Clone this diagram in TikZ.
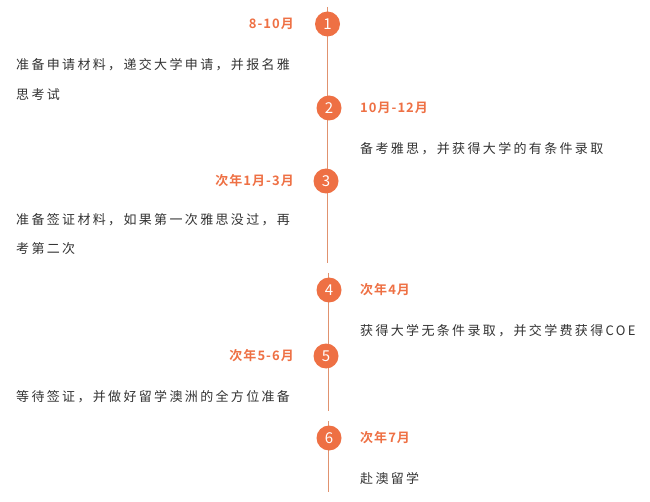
\documentclass[tikz,border=0pt]{standalone}
\usepackage{fontspec}
\setmainfont{Noto Sans CJK SC}
\newfontfamily\descfont[LetterSpace=18]{Noto Sans CJK SC}
\newfontfamily\datefont[LetterSpace=8]{Noto Sans CJK SC Bold}
\definecolor{org}{HTML}{EE7044}
\definecolor{lin}{HTML}{E0926F}
\definecolor{txt}{HTML}{333333}
\begin{document}
\begin{tikzpicture}[x=1pt,y=-1pt,
  num/.style={circle,fill=org,minimum size=25pt,inner sep=0pt,text=white,font=\fontsize{15}{16}\selectfont},
  date/.style={text=org,font=\datefont\fontsize{13}{15}\selectfont,inner sep=0pt},
  desc/.style={text=txt,font=\descfont\fontsize{13}{15}\selectfont,inner sep=0pt,anchor=west},
  tl/.style={draw=lin,line width=1pt}]
\useasboundingbox (0,0) rectangle (650,502);
\coordinate (s1) at (327.5,7); \coordinate (e1) at (327.5,263);
\coordinate (s2) at (328.5,273); \coordinate (e2) at (328.5,411);
\coordinate (s3) at (328.5,421); \coordinate (e3) at (328.5,492);
\draw[tl] (s1) -- (e1); \draw[tl] (s2) -- (e2); \draw[tl] (s3) -- (e3);
\node[num] (n1) at (327.5,24) {1};
\node[num] (n2) at (329,108) {2};
\node[num] (n3) at (326,181) {3};
\node[num] (n4) at (329,290) {4};
\node[num] (n5) at (326,356) {5};
\node[num] (n6) at (329,438) {6};
\node[date,anchor=east] (d1) at (294,24) {8-10月};
\node[date,anchor=west] (d2) at (360,108) {10月-12月};
\node[date,anchor=east] (d3) at (294,181) {次年1月-3月};
\node[date,anchor=west] (d4) at (360,290) {次年4月};
\node[date,anchor=east] (d5) at (294,356) {次年5-6月};
\node[date,anchor=west] (d6) at (360,438) {次年7月};
\node[desc] (t1a) at (16,65) {准备申请材料，递交大学申请，并报名雅};
\node[desc] (t1b) at (16,95) {思考试};
\node[desc] (t2) at (360,149) {备考雅思，并获得大学的有条件录取};
\node[desc] (t3a) at (16,220) {准备签证材料，如果第一次雅思没过，再};
\node[desc] (t3b) at (16,249) {考第二次};
\node[desc] (t4) at (360,331) {获得大学无条件录取，并交学费获得COE};
\node[desc] (t5) at (16,397) {等待签证，并做好留学澳洲的全方位准备};
\node[desc] (t6) at (360,479) {赴澳留学};
\end{tikzpicture}
\end{document}
